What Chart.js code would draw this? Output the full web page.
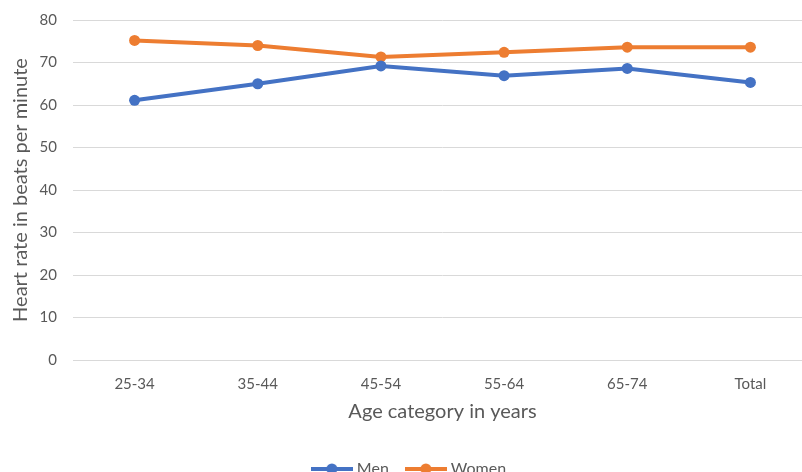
<!DOCTYPE html>
<html>
<head>
<meta charset="utf-8">
<script src="https://cdn.jsdelivr.net/npm/chart.js@4"></script>
<style>
  html, body { margin: 0; padding: 0; background: #fff; overflow: hidden; }
  #wrap { width: 802px; height: 472px; overflow: hidden; position: relative; }
  #box { width: 821px; height: 487px; position: absolute; left: 0; top: 0; }
</style>
</head>
<body>
<div id="wrap"><div id="box"><canvas id="c"></canvas></div></div>
<script>
// Resting heart rate by age group
const ageGroups = ['25-34', '35-44', '45-54', '55-64', '65-74', 'Total'];
const menRate   = [61.1, 65.0, 69.2, 66.9, 68.6, 65.3];
const womenRate = [75.2, 74.0, 71.3, 72.4, 73.6, 73.6];
const yTicks    = [0, 10, 20, 30, 40, 50, 60, 70, 80];

const BLUE = '#4472C4';
const ORANGE = '#ED7D31';
const TEXT = '#595959';
const FONT = 'Lato, "Open Sans", sans-serif';

// Legend swatch: a short line with a round marker in the middle
function swatch(color) {
  const cv = document.createElement('canvas');
  cv.width = 42; cv.height = 12;
  const g = cv.getContext('2d');
  g.strokeStyle = color; g.lineWidth = 4; g.lineCap = 'butt';
  g.beginPath(); g.moveTo(0, 6); g.lineTo(42, 6); g.stroke();
  g.fillStyle = color;
  g.beginPath(); g.arc(21, 6, 5.5, 0, Math.PI * 2); g.fill();
  return cv;
}

new Chart(document.getElementById('c'), {
  type: 'line',
  data: {
    labels: ageGroups,
    datasets: [
      { label: 'Men', data: menRate, borderColor: BLUE, backgroundColor: BLUE,
        borderWidth: 4, pointRadius: 5.5, pointHoverRadius: 5.5, pointBorderWidth: 0,
        tension: 0, pointStyle: 'circle' },
      { label: 'Women', data: womenRate, borderColor: ORANGE, backgroundColor: ORANGE,
        borderWidth: 4, pointRadius: 5.5, pointHoverRadius: 5.5, pointBorderWidth: 0,
        tension: 0, pointStyle: 'circle' }
    ]
  },
  options: {
    responsive: true,
    maintainAspectRatio: false,
    animation: false,
    layout: { padding: { top: 20, left: 9, right: 9, bottom: 0 } },
    plugins: {
      tooltip: { enabled: false },
      legend: {
        position: 'bottom',
        labels: {
          usePointStyle: true,
          pointStyleWidth: 34,
          color: TEXT,
          font: { family: FONT, size: 16 },
          padding: 20,
          generateLabels(chart) {
            return chart.data.datasets.map((ds, i) => ({
              text: ds.label,
              pointStyle: swatch(ds.borderColor),
              fillStyle: ds.borderColor,
              strokeStyle: ds.borderColor,
              lineWidth: 0,
              hidden: false,
              datasetIndex: i,
              fontColor: TEXT
            }));
          }
        }
      }
    },
    scales: {
      x: {
        offset: true,
        grid: { display: false },
        border: { display: true, color: '#d9d9d9', width: 1 },
        ticks: { color: TEXT, font: { family: FONT, size: 15 }, padding: 7, maxRotation: 0 },
        title: { display: true, text: 'Age category in years', color: TEXT,
                 font: { family: FONT, size: 20 }, padding: { top: 0, bottom: 17 } }
      },
      y: {
        min: 0, max: 80,
        afterBuildTicks(scale) { scale.ticks = yTicks.map(v => ({ value: v })); },
        afterFit(scale) { scale.width = 64; scale.paddingTop = 0; scale.paddingBottom = 0; },
        grid: { color: '#d9d9d9', lineWidth: 1, drawTicks: false },
        border: { display: false },
        ticks: { color: TEXT, font: { family: FONT, size: 15 }, padding: 16 },
        title: { display: true, text: 'Heart rate in beats per minute', color: TEXT,
                 font: { family: FONT, size: 20 }, padding: { top: 0, bottom: 0 } }
      }
    }
  }
});
</script>
</body>
</html>
